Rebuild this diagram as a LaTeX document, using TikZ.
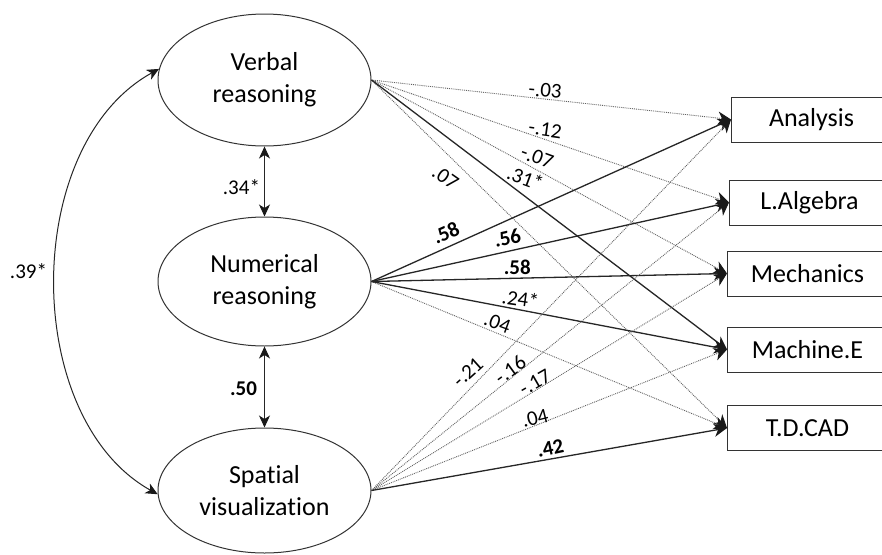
\documentclass[tikz,border=0pt]{standalone}
\usepackage{fontspec}
\setmainfont{Carlito}[Ligatures={NoCommon}]
\usetikzlibrary{shapes.geometric,arrows.meta}
\tikzset{
  lat/.style={ellipse, draw=black!80, line width=1pt, minimum width=213pt, inner sep=0pt, align=center, font=\fontsize{26}{32}\selectfont},
  obs/.style={rectangle, draw=black!80, line width=1pt, minimum width=160pt, minimum height=45pt, anchor=west, inner sep=0pt, font=\fontsize{26}{30}\selectfont},
  tipbig/.tip={Stealth[length=13pt,width=13pt,inset=4pt,color=black!90]},
  tipsmall/.tip={Stealth[length=12pt,width=11pt,inset=3.5pt,color=black!90]},
  sig/.style={draw=black!85, line width=1.3pt, -tipbig},
  ns/.style={draw=black!62, line width=0.9pt, densely dotted, -tipbig},
  cov/.style={draw=black!85, line width=1pt, tipsmall-tipsmall},
  lab/.style={inner sep=0pt, font=\fontsize{21}{21}\selectfont},
  blab/.style={inner sep=0pt, font=\fontsize{21}{21}\selectfont\bfseries}
}
\begin{document}
\begin{tikzpicture}[x=1pt,y=-1pt]
\clip (0,0) rectangle (882,554);
\fill[white] (0,0) rectangle (882,554);
% latent variables
\node[lat, minimum height=132pt] (V) at (264.5,80) {Verbal\\reasoning};
\node[lat, minimum height=129pt] (N) at (264.5,281.5) {Numerical\\reasoning};
\node[lat, minimum height=125pt] (S) at (264.5,490.5) {Spatial\\visualization};
% observed variables
\node[obs] (A) at (731,119.5) {Analysis};
\node[obs] (L) at (729,202.5) {L.Algebra};
\node[obs] (M) at (727,273.5) {Mechanics};
\node[obs] (E) at (727,349.5) {Machine.E};
\node[obs] (T) at (727,428) {T.D.CAD};
% covariances
\draw[cov] (V.south) -- node[lab, pos=.58, left=4pt] {.34*} (N.north);
\draw[cov] (N.south) -- node[blab, pos=.52, left=7pt] {.50} (S.north);
\draw[cov] (V.174) .. controls (21,145) and (21,418) .. node[lab, pos=.48, left=8pt] {.39*} (S.182);
% verbal paths
\draw[ns] (V.east) -- node[lab, pos=.483, yshift=8.5pt, rotate=-5] {-.03} (A.west);
\draw[ns] (V.east) -- node[lab, pos=.486, yshift=10pt, rotate=-8] {-.12} (L.west);
\draw[ns] (V.east) -- node[lab, pos=.466, yshift=13pt, rotate=-20] {-.07} (M.west);
\draw[ns] (V.east) -- node[lab, pos=.208, yshift=-25pt, rotate=-35] {.07} (T.west);
\draw[sig] (V.east) -- node[lab, pos=.433, yshift=18.5pt, rotate=-20] {.31*} (E.west);
% numerical paths
\draw[ns] (N.east) -- node[lab, pos=.354, yshift=10.5pt, rotate=-20] {.04} (T.west);
\draw[sig] (N.east) -- node[blab, pos=.207, yshift=15pt, rotate=24] {.58} (A.west);
\draw[sig] (N.east) -- node[blab, pos=.38, yshift=13.5pt, rotate=13] {.56} (L.west);
\draw[sig] (N.east) -- node[blab, pos=.41, yshift=11pt] {.58} (M.west);
\draw[sig] (N.east) -- node[lab, pos=.419, yshift=11pt, rotate=-8] {.24*} (E.west);
% spatial paths
\draw[ns] (S.east) -- node[lab, pos=.268, yshift=19pt, rotate=42] {-.21} (A.west);
\draw[ns] (S.east) -- node[lab, pos=.388, yshift=9pt, rotate=36] {-.16} (L.west);
\draw[ns] (S.east) -- node[lab, pos=.46, yshift=8.5pt, rotate=30] {-.17} (M.west);
\draw[ns] (S.east) -- node[lab, pos=.46, yshift=7.5pt, rotate=14] {.04} (E.west);
\draw[sig] (S.east) -- node[blab, pos=.503, yshift=11pt, rotate=12] {.42} (T.west);
\end{tikzpicture}
\end{document}
